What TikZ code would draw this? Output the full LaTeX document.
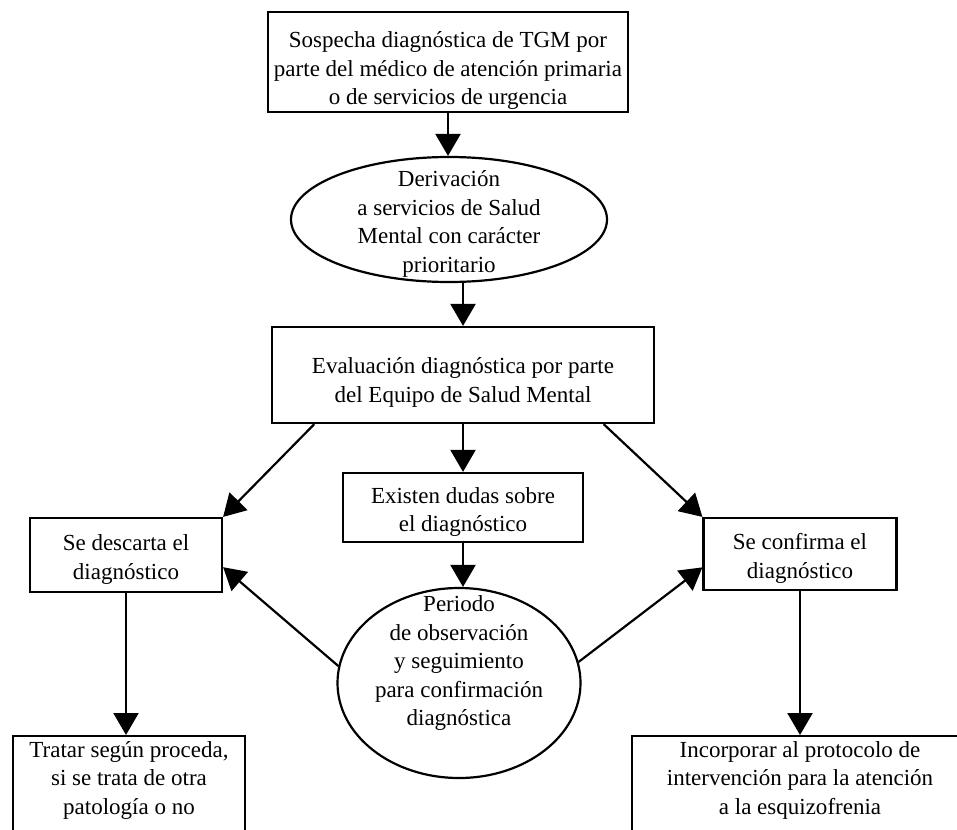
\documentclass[tikz,border=0pt]{standalone}
\usepackage{fontspec}
\setmainfont{Liberation Serif}
\usetikzlibrary{arrows.meta,shapes.geometric,calc}
\newcommand\firststrut[1]{\rule{0pt}{#1pt}}
\tikzset{
  txt/.style={inner sep=0pt, align=center, font=\fontsize{23}{28.5}\selectfont},
  box/.style={txt, draw, line width=2.2pt, rectangle},
  openbox/.style={txt, draw, line width=2.2pt, rectangle, inner ysep=5pt, anchor=north},
  ell/.style={draw, line width=2.2pt, ellipse, inner sep=0pt},
  arr/.style={line width=2.2pt, -{Triangle[length=22pt,width=25pt]}},
}
\begin{document}
\begin{tikzpicture}[x=1pt,y=-1pt]
\clip (0,0) rectangle (957,829);
\node[box, minimum width=360, minimum height=100] (sos) at (448,62)
  {\firststrut{33}Sospecha diagnóstica de TGM por\\parte del médico de atención primaria\\o de servicios de urgencia};
\node[ell, minimum width=316, minimum height=125] (der) at (449,219.5) {};
\node[txt] (dert) at (449,224)
  {Derivación\\a servicios de Salud\\Mental con carácter\\prioritario};
\node[box, minimum width=382, minimum height=96] (eval) at (463,375)
  {\firststrut{31}Evaluación diagnóstica por parte\\del Equipo de Salud Mental};
\node[box, minimum width=240, minimum height=69] (dud) at (463,507.5)
  {\firststrut{25}Existen dudas sobre\\el diagnóstico};
\node[box, minimum width=192, minimum height=74] (desc) at (126,555)
  {\firststrut{25}Se descarta el\\diagnóstico};
\node[box, minimum width=193, minimum height=72] (conf) at (800,554)
  {\firststrut{25}Se confirma el\\diagnóstico};
\node[ell, minimum width=243, minimum height=190] (obs) at (459,683) {};
\node[txt] (obst) at (459,663)
  {Periodo\\de observación\\y seguimiento\\para confirmación\\diagnóstica};
\node[openbox, minimum width=232] (trat) at (129,735)
  {Tratar según proceda,\\si se trata de otra\\patología o no\\[20pt]\mbox{}};
\node[openbox, minimum width=336] (inc) at (800,735)
  {Incorporar al protocolo de\\intervención para la atención\\a la esquizofrenia\\[20pt]\mbox{}};

\draw[arr] (sos.south) -- (sos.south |- der.north);
\draw[arr] (der.south -| eval.north) -- (eval.north);
\draw[arr] ($(eval.south west)!0.113!(eval.south east)$) -- (desc.north east);
\draw[arr] ($(eval.south west)!0.866!(eval.south east)$) -- (conf.north west);
\draw[arr] (eval.south) -- (dud.north);
\draw[arr] (dud.south) -- (dud.south |- obs.north);
\draw[arr] (obs.172) -- ($(desc.north east)!0.66!(desc.south east)$);
\draw[arr] (obs.10) -- ($(conf.north west)!0.68!(conf.south west)$);
\draw[arr] (desc.south) -- (desc.south |- trat.north);
\draw[arr] (conf.south) -- (inc.north);
\end{tikzpicture}
\end{document}
